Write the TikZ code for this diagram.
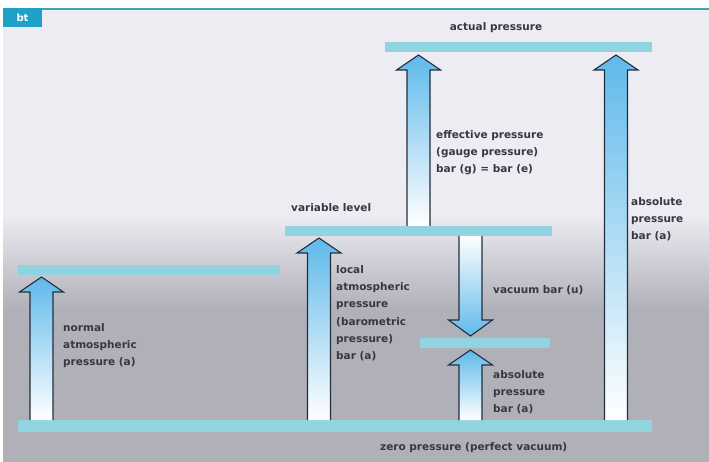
\documentclass[tikz,border=0pt]{standalone}
\usepackage{fontspec}
\setmainfont{DejaVu Sans}
\definecolor{bartea}{RGB}{143,212,222}
\definecolor{arrblue}{RGB}{95,185,235}
\definecolor{arrout}{RGB}{35,45,60}
\definecolor{txtc}{RGB}{55,55,65}
\definecolor{bgtop}{RGB}{237,236,243}
\definecolor{bggray}{RGB}{176,176,184}
\definecolor{topline}{RGB}{70,160,180}
\definecolor{badge}{RGB}{30,160,200}
\tikzset{
  barbox/.style={fill=bartea, draw=none},
  lbl/.style={font=\bfseries\fontsize{10.5}{17.3}\selectfont, text=txtc, inner sep=0pt},
  lblm/.style={lbl, align=left, anchor=north west},
  arrline/.style={draw=arrout, line width=1.1pt, line join=miter},
}
% up arrow: centre x, tip y, bottom y
\newcommand\presup[3]{%
  \shade[top color=arrblue, bottom color=white]
    (#1-11.5,#3) -- (#1-11.5,#2+15) -- (#1-22,#2+15) -- (#1,#2) -- (#1+22,#2+15)
    -- (#1+11.5,#2+15) -- (#1+11.5,#3) -- cycle;
  \draw[arrline] (#1-11.5,#3) -- (#1-11.5,#2+15) -- (#1-22,#2+15) -- (#1,#2)
    -- (#1+22,#2+15) -- (#1+11.5,#2+15) -- (#1+11.5,#3);
}
% down arrow: centre x, top y, tip y
\newcommand\presdown[3]{%
  \shade[top color=white, bottom color=arrblue]
    (#1-11.5,#2) -- (#1-11.5,#3-16) -- (#1-22,#3-16) -- (#1,#3) -- (#1+22,#3-16)
    -- (#1+11.5,#3-16) -- (#1+11.5,#2) -- cycle;
  \draw[arrline] (#1-11.5,#2) -- (#1-11.5,#3-16) -- (#1-22,#3-16) -- (#1,#3)
    -- (#1+22,#3-16) -- (#1+11.5,#3-16) -- (#1+11.5,#2);
}
\begin{document}
\begin{tikzpicture}[x=1pt,y=-1pt]
\useasboundingbox (0,0) rectangle (709,462);
% background
\fill[white] (0,0) rectangle (709,462);
\fill[bgtop] (3,10) rectangle (709,215);
\shade[top color=bgtop, bottom color=bggray] (3,214.5) rectangle (709,310);
\fill[bggray] (3,309.5) rectangle (709,462);
\fill[topline] (3,8.5) rectangle (709,10.5);
\fill[badge] (3,8) rectangle (42,27);
\node[font=\bfseries\fontsize{10}{12}\selectfont, text=white] (bt) at (22.5,17.5) {bt};
% bars
\fill[barbox] (18,420) rectangle (652,432);
\fill[barbox] (18,265) rectangle (280,275);
\fill[barbox] (285,226) rectangle (552,236);
\fill[barbox] (385,42) rectangle (652,52);
\fill[barbox] (420,338) rectangle (550,348);
% arrows
\presup{41.5}{277}{420}
\presup{319}{238}{420}
\presup{418.5}{55}{226}
\presup{616}{55}{420}
\presup{470.5}{350}{420}
\presdown{470.5}{236}{336}
% labels
\node[lbl, anchor=base] (actual) at (496,31) {actual pressure};
\node[lbl, anchor=base west] (variable) at (291,212) {variable level};
\node[lbl, anchor=base west] (vacuum) at (493,293) {vacuum bar (u)};
\node[lbl, anchor=base west] (zerolbl) at (380,450) {zero pressure (perfect vacuum)};
\node[lblm] (normal) at (63,323) {normal\\atmospheric\\pressure (a)};
\node[lblm] (local) at (336,265) {local\\atmospheric\\pressure\\(barometric\\pressure)\\bar (a)};
\node[lblm] (effective) at (436,130) {effective pressure\\(gauge pressure)\\bar (g) = bar (e)};
\node[lblm] (absright) at (631,197) {absolute\\pressure\\bar (a)};
\node[lblm] (abssmall) at (493,370) {absolute\\pressure\\bar (a)};
\end{tikzpicture}
\end{document}
